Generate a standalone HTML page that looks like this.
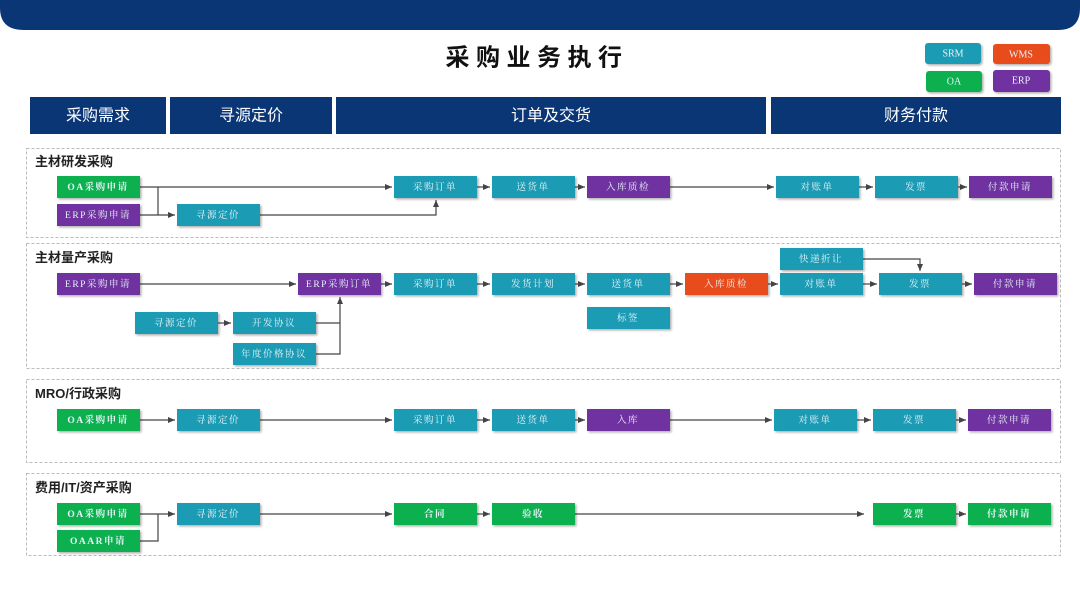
<!DOCTYPE html>
<html><head><meta charset="utf-8"><style>
html,body{margin:0;padding:0;background:#fff;}
svg{display:block;}
text{font-family:"Liberation Serif","Noto Serif CJK SC",serif;}
.n{font-size:9.5px;fill:#e8f4f8;text-anchor:middle;dominant-baseline:central;letter-spacing:1.5px;}
.h{font-family:"Liberation Sans","Noto Sans CJK SC",sans-serif;font-size:16px;fill:#fff;text-anchor:middle;dominant-baseline:central;}
.s{font-family:"Liberation Sans","Noto Sans CJK SC",sans-serif;font-size:13px;font-weight:bold;fill:#222;}
.ln{stroke:#444;stroke-width:1.2;fill:none;}
.sec{fill:none;stroke:#bbb;stroke-width:1;stroke-dasharray:3,2;}
</style></head><body>
<svg width="1080" height="608" viewBox="0 0 1080 608" xmlns="http://www.w3.org/2000/svg">
<defs>
<marker id="a" markerWidth="8" markerHeight="8" refX="7" refY="4" orient="auto" markerUnits="userSpaceOnUse"><path d="M0,1 L7,4 L0,7 z" fill="#444"/></marker>
<filter id="sh" x="-10%" y="-20%" width="130%" height="160%"><feDropShadow dx="1.5" dy="1.5" stdDeviation="1" flood-color="#000" flood-opacity="0.3"/></filter>
</defs>
<path d="M0,0 H1080 V8 Q1080,30 1058,30 H24 Q0,30 0,8 Z" fill="#0b3675"/>
<text x="537" y="58" text-anchor="middle" dominant-baseline="central" style="font-family:'Liberation Sans','Noto Sans CJK SC',sans-serif;font-size:24px;font-weight:bold;letter-spacing:6.5px;fill:#111">采购业务执行</text>
<g filter="url(#sh)">
<rect x="925" y="43" width="56" height="21" rx="3" fill="#1a9bb5"/>
<rect x="993" y="44" width="57" height="20" rx="3" fill="#e84c1e"/>
<rect x="926" y="71" width="56" height="21" rx="3" fill="#10b050"/>
<rect x="993" y="70" width="57" height="22" rx="3" fill="#7030a0"/>
</g>
<g>
<text class="n" x="953" y="54" style="font-size:10px;letter-spacing:0">SRM</text><text class="n" x="1021" y="55" style="font-size:10px;letter-spacing:0">WMS</text>
<text class="n" x="954" y="82" style="font-size:10px;letter-spacing:0">OA</text><text class="n" x="1021" y="81" style="font-size:10px;letter-spacing:0">ERP</text>
</g>
<rect x="30" y="97" width="136" height="37" fill="#0b3675"/>
<rect x="170" y="97" width="162" height="37" fill="#0b3675"/>
<rect x="336" y="97" width="430" height="37" fill="#0b3675"/>
<rect x="771" y="97" width="290" height="37" fill="#0b3675"/>
<text class="h" x="98" y="116">采购需求</text>
<text class="h" x="251" y="116">寻源定价</text>
<text class="h" x="551" y="116">订单及交货</text>
<text class="h" x="916" y="116">财务付款</text>

<rect class="sec" x="26.5" y="148.5" width="1034" height="89"/>
<rect class="sec" x="26.5" y="243.5" width="1034" height="125"/>
<rect class="sec" x="26.5" y="379.5" width="1034" height="83"/>
<rect class="sec" x="26.5" y="473.5" width="1034" height="82"/>
<text class="s" x="35" y="166">主材研发采购</text>
<text class="s" x="35" y="262">主材量产采购</text>
<text class="s" x="35" y="398">MRO/行政采购</text>
<text class="s" x="35" y="492">费用/IT/资产采购</text>

<g class="ln">
<path d="M140,187 H392" marker-end="url(#a)"/>
<path d="M140,215 H175" marker-end="url(#a)"/>
<path d="M158,187 V215"/>
<path d="M260,215 H436 V200" marker-end="url(#a)"/>
<path d="M477,187 H490" marker-end="url(#a)"/>
<path d="M575,187 H585" marker-end="url(#a)"/>
<path d="M670,187 H774" marker-end="url(#a)"/>
<path d="M859,187 H873" marker-end="url(#a)"/>
<path d="M958,187 H967" marker-end="url(#a)"/>

<path d="M140,284 H296" marker-end="url(#a)"/>
<path d="M381,284 H392" marker-end="url(#a)"/>
<path d="M477,284 H490" marker-end="url(#a)"/>
<path d="M575,284 H585" marker-end="url(#a)"/>
<path d="M670,284 H683" marker-end="url(#a)"/>
<path d="M768,284 H778" marker-end="url(#a)"/>
<path d="M863,284 H877" marker-end="url(#a)"/>
<path d="M962,284 H972" marker-end="url(#a)"/>
<path d="M863,259 H920 V271" marker-end="url(#a)"/>
<path d="M218,323 H231" marker-end="url(#a)"/>
<path d="M316,323 H340"/>
<path d="M316,354 H340 V297" marker-end="url(#a)"/>

<path d="M140,420 H175" marker-end="url(#a)"/>
<path d="M260,420 H392" marker-end="url(#a)"/>
<path d="M477,420 H490" marker-end="url(#a)"/>
<path d="M575,420 H585" marker-end="url(#a)"/>
<path d="M670,420 H772" marker-end="url(#a)"/>
<path d="M857,420 H871" marker-end="url(#a)"/>
<path d="M956,420 H966" marker-end="url(#a)"/>

<path d="M140,514 H175" marker-end="url(#a)"/>
<path d="M140,541 H158 V514"/>
<path d="M260,514 H392" marker-end="url(#a)"/>
<path d="M477,514 H490" marker-end="url(#a)"/>
<path d="M575,514 H864" marker-end="url(#a)"/>
<path d="M956,514 H966" marker-end="url(#a)"/>
</g>

<g filter="url(#sh)">
<rect x="57" y="176" width="83" height="22" fill="#10b050"/>
<rect x="57" y="204" width="83" height="22" fill="#7030a0"/>
<rect x="177" y="204" width="83" height="22" fill="#1a9bb5"/>
<rect x="394" y="176" width="83" height="22" fill="#1a9bb5"/>
<rect x="492" y="176" width="83" height="22" fill="#1a9bb5"/>
<rect x="587" y="176" width="83" height="22" fill="#7030a0"/>
<rect x="776" y="176" width="83" height="22" fill="#1a9bb5"/>
<rect x="875" y="176" width="83" height="22" fill="#1a9bb5"/>
<rect x="969" y="176" width="83" height="22" fill="#7030a0"/>

<rect x="57" y="273" width="83" height="22" fill="#7030a0"/>
<rect x="298" y="273" width="83" height="22" fill="#7030a0"/>
<rect x="394" y="273" width="83" height="22" fill="#1a9bb5"/>
<rect x="492" y="273" width="83" height="22" fill="#1a9bb5"/>
<rect x="587" y="273" width="83" height="22" fill="#1a9bb5"/>
<rect x="685" y="273" width="83" height="22" fill="#e84c1e"/>
<rect x="780" y="273" width="83" height="22" fill="#1a9bb5"/>
<rect x="879" y="273" width="83" height="22" fill="#1a9bb5"/>
<rect x="974" y="273" width="83" height="22" fill="#7030a0"/>
<rect x="780" y="248" width="83" height="22" fill="#1a9bb5"/>
<rect x="587" y="307" width="83" height="22" fill="#1a9bb5"/>
<rect x="135" y="312" width="83" height="22" fill="#1a9bb5"/>
<rect x="233" y="312" width="83" height="22" fill="#1a9bb5"/>
<rect x="233" y="343" width="83" height="22" fill="#1a9bb5"/>

<rect x="57" y="409" width="83" height="22" fill="#10b050"/>
<rect x="177" y="409" width="83" height="22" fill="#1a9bb5"/>
<rect x="394" y="409" width="83" height="22" fill="#1a9bb5"/>
<rect x="492" y="409" width="83" height="22" fill="#1a9bb5"/>
<rect x="587" y="409" width="83" height="22" fill="#7030a0"/>
<rect x="774" y="409" width="83" height="22" fill="#1a9bb5"/>
<rect x="873" y="409" width="83" height="22" fill="#1a9bb5"/>
<rect x="968" y="409" width="83" height="22" fill="#7030a0"/>

<rect x="57" y="503" width="83" height="22" fill="#10b050"/>
<rect x="57" y="530" width="83" height="22" fill="#10b050"/>
<rect x="177" y="503" width="83" height="22" fill="#1a9bb5"/>
<rect x="394" y="503" width="83" height="22" fill="#10b050"/>
<rect x="492" y="503" width="83" height="22" fill="#10b050"/>
<rect x="873" y="503" width="83" height="22" fill="#10b050"/>
<rect x="968" y="503" width="83" height="22" fill="#10b050"/>
</g>
<g transform="translate(0,1)">
<text class="n" x="98" y="187" style="font-weight:bold">OA采购申请</text>
<text class="n" x="98" y="215">ERP采购申请</text>
<text class="n" x="218" y="215">寻源定价</text>
<text class="n" x="435" y="187">采购订单</text>
<text class="n" x="533" y="187">送货单</text>
<text class="n" x="628" y="187">入库质检</text>
<text class="n" x="817" y="187">对账单</text>
<text class="n" x="916" y="187">发票</text>
<text class="n" x="1010" y="187">付款申请</text>

<text class="n" x="98" y="284">ERP采购申请</text>
<text class="n" x="339" y="284">ERP采购订单</text>
<text class="n" x="435" y="284">采购订单</text>
<text class="n" x="533" y="284">发货计划</text>
<text class="n" x="628" y="284">送货单</text>
<text class="n" x="726" y="284">入库质检</text>
<text class="n" x="821" y="284">对账单</text>
<text class="n" x="920" y="284">发票</text>
<text class="n" x="1015" y="284">付款申请</text>
<text class="n" x="821" y="259">快递折让</text>
<text class="n" x="628" y="318">标签</text>
<text class="n" x="176" y="323">寻源定价</text>
<text class="n" x="274" y="323">开发协议</text>
<text class="n" x="274" y="354">年度价格协议</text>

<text class="n" x="98" y="420" style="font-weight:bold">OA采购申请</text>
<text class="n" x="218" y="420">寻源定价</text>
<text class="n" x="435" y="420">采购订单</text>
<text class="n" x="533" y="420">送货单</text>
<text class="n" x="628" y="420">入库</text>
<text class="n" x="815" y="420">对账单</text>
<text class="n" x="914" y="420">发票</text>
<text class="n" x="1009" y="420">付款申请</text>

<text class="n" x="98" y="514" style="font-weight:bold">OA采购申请</text>
<text class="n" x="98" y="541" style="font-weight:bold">OAAR申请</text>
<text class="n" x="218" y="514">寻源定价</text>
<text class="n" x="435" y="514" style="font-weight:bold">合同</text>
<text class="n" x="533" y="514" style="font-weight:bold">验收</text>
<text class="n" x="914" y="514" style="font-weight:bold">发票</text>
<text class="n" x="1009" y="514" style="font-weight:bold">付款申请</text>
</g>
</svg>
</body></html>
